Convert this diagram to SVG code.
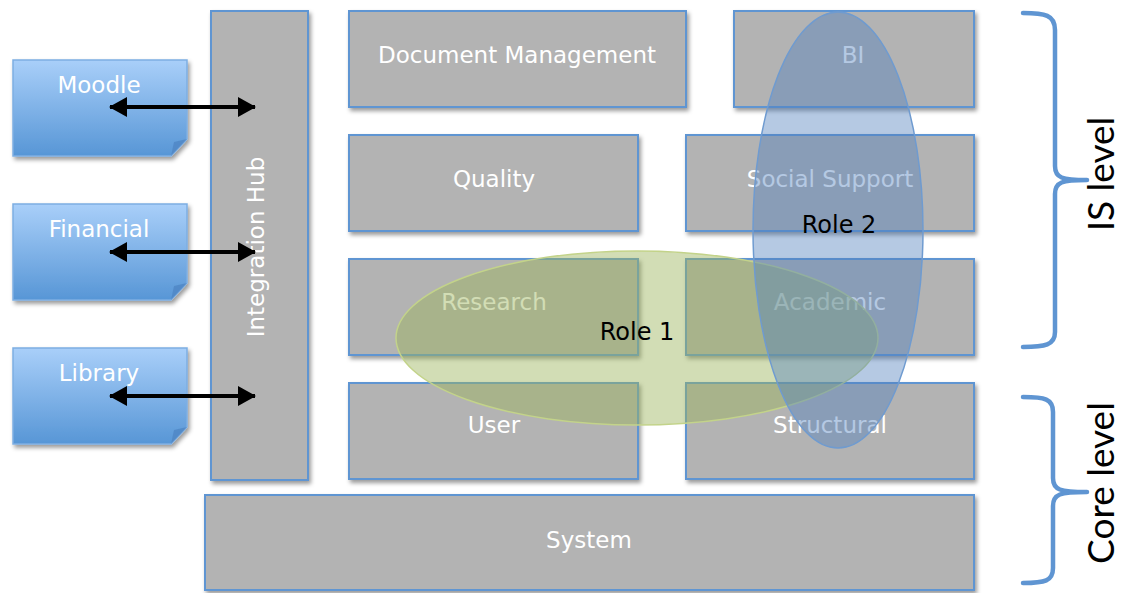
<svg xmlns="http://www.w3.org/2000/svg" width="1122" height="593" viewBox="0 0 1122 593">
<defs>
<filter id="sh" x="-10%" y="-10%" width="130%" height="130%">
<feDropShadow dx="2" dy="3" stdDeviation="2.2" flood-color="#000" flood-opacity="0.4"/>
</filter>
<linearGradient id="bg" x1="0" y1="0" x2="0" y2="1">
<stop offset="0" stop-color="#a9cff9"/>
<stop offset="1" stop-color="#5796d6"/>
</linearGradient>
<marker id="ah" viewBox="0 0 18 20" refX="17" refY="10" markerWidth="18" markerHeight="20" orient="auto-start-reverse" markerUnits="userSpaceOnUse">
<path d="M0,0 L18,10 L0,20 z" fill="#000"/>
</marker>
</defs>
<style>
.box{fill:#b3b3b3;stroke:#5f95d2;stroke-width:2;filter:url(#sh)}
.note{fill:url(#bg);stroke:#7daee2;stroke-width:1.5;filter:url(#sh)}
.fold{fill:#4f86c4;opacity:0.8}
.t{font-family:"DejaVu Sans",Verdana,sans-serif;font-size:23px;fill:#fff;text-anchor:middle}
.r{font-family:"DejaVu Sans",Verdana,sans-serif;font-size:24px;fill:#000;text-anchor:middle}
.lv{font-family:Lato,"Open Sans",sans-serif;font-size:37px;fill:#000;text-anchor:middle}
.br{fill:none;stroke:#5f95d2;stroke-width:4.5;stroke-linecap:round;stroke-linejoin:round}
.ar{stroke:#000;stroke-width:4;fill:none;marker-start:url(#ah);marker-end:url(#ah)}
</style>

<g id="moodle">
<path class="note" d="M13,60 H187 V139 L171,156 H13 Z"/>
<path class="fold" d="M171,156 L174,142 L187,139 Z"/>
<text class="t" x="99" y="93">Moodle</text>
</g>
<g id="financial">
<path class="note" d="M13,204 H187 V283 L171,300 H13 Z"/>
<path class="fold" d="M171,300 L174,286 L187,283 Z"/>
<text class="t" x="99" y="237">Financial</text>
</g>
<g id="library">
<path class="note" d="M13,348 H187 V427 L171,444 H13 Z"/>
<path class="fold" d="M171,444 L174,430 L187,427 Z"/>
<text class="t" x="99" y="381">Library</text>
</g>

<g id="integration-hub">
<rect class="box" x="211" y="11" width="97" height="469"/>
<text class="t" transform="translate(264,247) rotate(-90)" x="0" y="0">Integration Hub</text>
</g>
<g id="document-management">
<rect class="box" x="349" y="11" width="337" height="96"/>
<text class="t" x="517" y="63">Document Management</text>
</g>
<g id="bi">
<rect class="box" x="734" y="11" width="240" height="96"/>
<text class="t" x="853" y="63">BI</text>
</g>
<g id="quality">
<rect class="box" x="349" y="135" width="289" height="96"/>
<text class="t" x="494" y="187">Quality</text>
</g>
<g id="social-support">
<rect class="box" x="686" y="135" width="288" height="96"/>
<text class="t" x="830" y="187">Social Support</text>
</g>
<g id="research">
<rect class="box" x="349" y="259" width="289" height="96"/>
<text class="t" x="494" y="310">Research</text>
</g>
<g id="academic">
<rect class="box" x="686" y="259" width="288" height="96"/>
<text class="t" x="830" y="310">Academic</text>
</g>
<g id="user">
<rect class="box" x="349" y="383" width="289" height="96"/>
<text class="t" x="494" y="433">User</text>
</g>
<g id="structural">
<rect class="box" x="686" y="383" width="288" height="96"/>
<text class="t" x="830" y="433">Structural</text>
</g>
<g id="system">
<rect class="box" x="205" y="495" width="769" height="95"/>
<text class="t" x="589" y="548">System</text>
</g>

<g id="role1">
<ellipse cx="637" cy="338" rx="241" ry="87" fill="#9bb35a" fill-opacity="0.45" stroke="#c3d38a" stroke-width="1.5"/>
<text class="r" x="637" y="340">Role 1</text>
</g>
<g id="role2">
<ellipse cx="838" cy="230" rx="85" ry="218" fill="#4f7fbd" fill-opacity="0.42" stroke="#6f9bd0" stroke-width="1.5"/>
<text class="r" x="839" y="233">Role 2</text>
</g>

<g id="is-level">
<path class="br" d="M1023,13 C1045,13 1055,15 1055,30 V166 C1055,178 1062,180 1087,180 C1062,180 1055,182 1055,194 V332 C1055,345 1045,347 1023,347"/>
<text class="lv" transform="translate(1114,174) rotate(-90)">IS level</text>
</g>
<g id="core-level">
<path class="br" d="M1023,397 C1045,397 1053,399 1053,412 V478 C1053,490 1060,492 1087,492 C1060,492 1053,494 1053,506 V568 C1053,581 1045,583 1023,583"/>
<text class="lv" transform="translate(1114,483) rotate(-90)">Core level</text>
</g>

<g id="connectors">
<line class="ar" x1="110" y1="107" x2="255" y2="107"/>
<line class="ar" x1="110" y1="252" x2="255" y2="252"/>
<line class="ar" x1="110" y1="396" x2="255" y2="396"/>
</g>
</svg>
